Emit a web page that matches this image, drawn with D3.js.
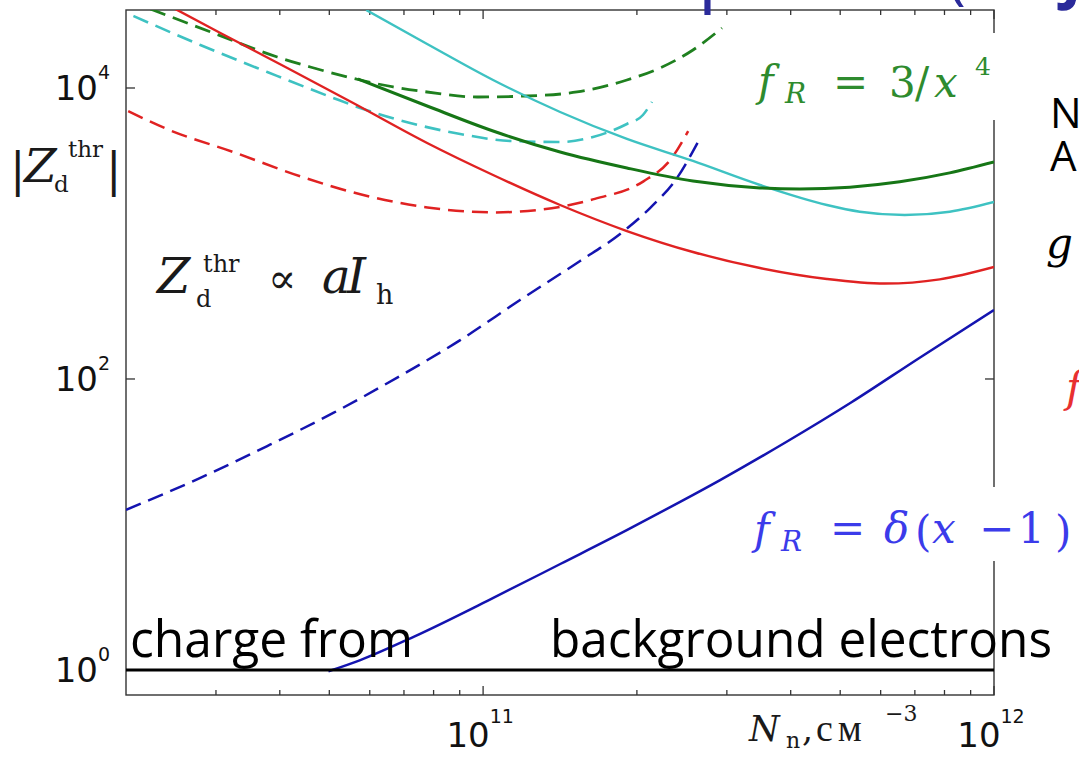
<!DOCTYPE html>
<html><head><meta charset="utf-8">
<script src="https://cdn.jsdelivr.net/npm/d3@7"></script>
<style>body{margin:0;background:#fff;} svg{display:block;}</style>
</head><body>
<svg id="chart" width="1079" height="757"></svg>
<script>
// ---------- data (N in cm^-3, |Z| values) ----------
const blueSolidN  = [4.98e10, 5.75e10, 7.31e10, 1.047e11, 1.416e11, 1.915e11, 2.43e11, 2.91e11, 3.92e11, 5.27e11, 7.13e11, 1e12];
const blueSolidZ  = [0.98, 1.17, 1.69, 3.13, 5.35, 9.17, 14.3, 20.2, 36.9, 69.5, 139, 298];

const blueDashN   = [2.0e10, 2.796e10, 3.78e10, 5.09e10, 6.88e10, 9.02e10, 1.181e11, 1.548e11, 1.854e11, 2.122e11, 2.396e11, 2.634e11];
const blueDashZ   = [12.6, 20.9, 34.6, 58.4, 105, 185, 349, 647, 992, 1496, 2407, 4256];

const redSolidN   = [2.476e10, 3.06e10, 4.138e10, 5.568e10, 7.77e10, 1.046e11, 1.415e11, 1.912e11, 2.575e11, 3.483e11, 4.709e11, 6.112e11, 7.83e11, 1e12];
const redSolidZ   = [35480, 23880, 13730, 7885, 4188, 2523, 1570, 1040, 746, 579, 487, 453, 484, 589];

const redDashN    = [2.02e10, 2.41e10, 3.25e10, 4.39e10, 5.75e10, 7.78e10, 1.047e11, 1.31e11, 1.64e11, 2.06e11, 2.33e11, 2.52e11];
const redDashZ    = [6940, 5210, 3620, 2470, 1860, 1511, 1396, 1465, 1716, 2283, 3237, 5050];

const greenSolidN = [5.69e10, 7.77e10, 1.046e11, 1.415e11, 1.912e11, 2.575e11, 3.483e11, 4.169e11, 5.222e11, 6.54e11, 8.19e11, 1e12];
const greenSolidZ = [11530, 7520, 5063, 3631, 2820, 2295, 2058, 2022, 2081, 2266, 2609, 3100];

const greenDashN  = [2.232e10, 2.964e10, 3.955e10, 4.589e10, 5.745e10, 6.668e10, 7.77e10, 9.73e10, 1.219e11, 1.527e11, 1.912e11, 2.22e11, 2.575e11, 2.935e11];
const greenDashZ  = [34920, 23880, 16330, 13945, 11350, 10160, 9387, 8673, 8810, 9387, 11350, 13730, 18250, 25850];

const cyanSolidN  = [5.905e10, 7.77e10, 1.046e11, 1.415e11, 1.912e11, 2.575e11, 3.483e11, 4.709e11, 5.462e11, 6.687e11, 8.19e11, 1e12];
const cyanSolidZ  = [34360, 20070, 11350, 6840, 4462, 3150, 2154, 1570, 1412, 1340, 1412, 1647];

const cyanDashN   = [2.068e10, 2.796e10, 3.78e10, 5.09e10, 5.745e10, 7.196e10, 9.02e10, 1.129e11, 1.415e11, 1.641e11, 1.912e11, 2.055e11, 2.14e11];
const cyanDashZ   = [31260, 19750, 12880, 8540, 7288, 5747, 4830, 4323, 4256, 4604, 5656, 6523, 8013];

const chargeLevel = 1;               // charge from background electrons
const xDomain = [2e10, 1e12];
const yDomain = [0.673, 34360];
const xMajor = [1e11, 1e12];
const xMinor = [3e10,4e10,5e10,6e10,7e10,8e10,9e10,2e11,3e11,4e11,5e11,6e11,7e11,8e11,9e11];
const yMajor = [1, 100, 10000];
const xTickLabels = [["10","11"],["10","12"]];
const yTickLabels = [["10","0"],["10","2"],["10","4"]];

// ---------- setup ----------
const svg = d3.select("#chart");
const L = 126, R = 994, T = 10, B = 695;
const x = d3.scaleLog().domain(xDomain).range([L, R]);
const y = d3.scaleLog().domain(yDomain).range([B, T]);

svg.append("defs").append("clipPath").attr("id","clip")
  .append("rect").attr("x",L).attr("y",T).attr("width",R-L).attr("height",B-T);

// frame
svg.append("rect").attr("x",L).attr("y",T).attr("width",R-L).attr("height",B-T)
  .attr("fill","none").attr("stroke","#333").attr("stroke-width",1.4);

// ticks (inward)
const tk = svg.append("g").attr("stroke","#333").attr("stroke-width",1.3);
xMajor.concat(xMinor).forEach(v => {
  const len = xMajor.includes(v) ? 9 : 5;
  tk.append("line").attr("x1",x(v)).attr("x2",x(v)).attr("y1",B).attr("y2",B-len);
  tk.append("line").attr("x1",x(v)).attr("x2",x(v)).attr("y1",T).attr("y2",T+len);
});
yMajor.forEach(v => {
  tk.append("line").attr("x1",L).attr("x2",L+9).attr("y1",y(v)).attr("y2",y(v));
  tk.append("line").attr("x1",R).attr("x2",R-9).attr("y1",y(v)).attr("y2",y(v));
});

// tick labels
const tl = svg.append("g").attr("font-family","DejaVu Sans").attr("fill","#111");
yMajor.forEach((v,i) => {
  const t = tl.append("text").attr("x",110).attr("y",y(v)+12).attr("text-anchor","end").attr("font-size",34);
  t.append("tspan").text(yTickLabels[i][0]);
  t.append("tspan").attr("font-size",19).attr("dy",-21).text(yTickLabels[i][1]);
});
xMajor.forEach((v,i) => {
  const t = tl.append("text").attr("x",x(v)-3).attr("y",747).attr("text-anchor","middle").attr("font-size",34);
  t.append("tspan").text(xTickLabels[i][0]);
  t.append("tspan").attr("font-size",19).attr("dy",-24).text(xTickLabels[i][1]);
});

// curves
const line = d3.line().x(d=>x(d[0])).y(d=>y(d[1])).curve(d3.curveMonotoneX);
const zip = (a,b) => a.map((v,i)=>[v,b[i]]);
const series = [
  {N:blueDashN,  Z:blueDashZ,  c:"#1414b0", dash:"16,8", w:2.5},
  {N:redDashN,   Z:redDashZ,   c:"#e02222", dash:"16,8", w:2.5},
  {N:cyanDashN,  Z:cyanDashZ,  c:"#3ec2c2", dash:"16,8", w:2.6},
  {N:greenDashN, Z:greenDashZ, c:"#1f801f", dash:"16,8", w:2.8},
  {N:redSolidN,  Z:redSolidZ,  c:"#e02222", dash:null, w:2.4},
  {N:cyanSolidN, Z:cyanSolidZ, c:"#3ec2c2", dash:null, w:2.4},
  {N:greenSolidN,Z:greenSolidZ,c:"#167616", dash:null, w:3},
  {N:blueSolidN, Z:blueSolidZ, c:"#1414b0", dash:null, w:2.5},
];
const cg = svg.append("g").attr("clip-path","url(#clip)");
series.forEach(s => {
  cg.append("path").attr("d", line(zip(s.N,s.Z))).attr("fill","none")
    .attr("stroke", s.c).attr("stroke-width", s.w)
    .attr("stroke-dasharray", s.dash).attr("stroke-linecap","butt");
});
cg.append("line").attr("x1",x(xDomain[0])).attr("x2",x(xDomain[1]))
  .attr("y1",y(chargeLevel)).attr("y2",y(chargeLevel)).attr("stroke","#000").attr("stroke-width",3);

// helper for text pieces
function txt(g, s, px, py, size, opt={}) {
  return g.append("text").attr("x",px).attr("y",py).attr("font-size",size)
    .attr("font-family", opt.family || "DejaVu Serif")
    .attr("font-style", opt.italic ? "italic" : "normal")
    .attr("font-weight", opt.bold ? "bold" : "normal")
    .attr("fill", opt.fill || "#1a1a1a").text(s);
}

// y-axis label |Z_d^thr|
const yl = svg.append("g");
txt(yl,"|",10,186,46);
txt(yl,"Z",24,182,47,{italic:true});
txt(yl,"thr",68,157,23);
txt(yl,"d",54,192,23);
txt(yl,"|",106,186,46);

// annotation Z ∝ a I_h
const an = svg.append("g");
an.append("rect").attr("x",140).attr("y",240).attr("width",270).attr("height",82).attr("fill","#fff");
txt(an,"Z",157,293,48,{italic:true});
txt(an,"thr",203,272,24);
txt(an,"d",196,307,24);
txt(an,"\u221D",268,293,42);
txt(an,"a",322,293,48,{italic:true});
txt(an,"I",347,293,48,{italic:true});
txt(an,"h",376,304,27);

// f_R = 3/x^4
const gcol = "#2e8b2e";
const fg = svg.append("g");
fg.append("rect").attr("x",745).attr("y",33).attr("width",265).attr("height",87).attr("fill","#fff");
txt(fg,"f",758,96,42,{italic:true,fill:gcol});
txt(fg,"R",785,103,28,{italic:true,fill:gcol});
txt(fg,"=",833,97,42,{fill:gcol});
txt(fg,"3",889,97,42,{fill:gcol});
txt(fg,"/",915,97,42,{fill:gcol});
txt(fg,"x",934,97,42,{italic:true,fill:gcol});
txt(fg,"4",975,75,25,{fill:gcol});

// f_R = δ(x − 1)
const bcol = "#3b3bea";
const fb = svg.append("g");
fb.append("rect").attr("x",745).attr("y",487).attr("width",334).attr("height",74).attr("fill","#fff");
txt(fb,"f",754,544,42,{italic:true,fill:bcol});
txt(fb,"R",781,551,28,{italic:true,fill:bcol});
txt(fb,"=",830,543,42,{fill:bcol});
txt(fb,"\u03B4",884,543,42,{italic:true,fill:bcol});
txt(fb,"(",915,546,42,{fill:bcol});
txt(fb,"x",932,543,42,{italic:true,fill:bcol});
txt(fb,"\u2212",979,543,42,{fill:bcol});
txt(fb,"1",1018,543,42,{fill:bcol});
txt(fb,")",1055,546,42,{fill:bcol});

// x-axis label N_n, см^-3
const xl = svg.append("g");
txt(xl,"N",749,741,35,{italic:true});
txt(xl,"n",786,748,22);
txt(xl,",",802,741,35);
txt(xl,"см",816,741,38,{family:"Liberation Serif"}).attr("letter-spacing",5);
txt(xl,"\u22123",885,721,22);

// overlay text
const ov = svg.append("g");
txt(ov,"charge from",130,657,52,{family:"Open Sans",fill:"#000"}).attr("textLength",283).attr("lengthAdjust","spacingAndGlyphs");
txt(ov,"background electrons",550,657,52,{family:"Open Sans",fill:"#000"}).attr("textLength",502).attr("lengthAdjust","spacingAndGlyphs");

// cut-off slide text at right / top
txt(ov,"N",1050,128,42,{family:"Open Sans",fill:"#000"});
txt(ov,"A",1050,171,42,{family:"Open Sans",fill:"#000"});
txt(ov,"g",1046,258,42,{italic:true,fill:"#000"});
txt(ov,"f",1066,402,42,{italic:true,fill:"#e83030"});
txt(ov,"p",698,-3,75,{family:"Open Sans",fill:"#2a2a9a"});
txt(ov,"(",948,-3,60,{family:"Open Sans",fill:"#2a2a9a"});
txt(ov,"J",1062,-2,60,{family:"Open Sans",bold:true,fill:"#2a2a9a"});
</script>
</body></html>
